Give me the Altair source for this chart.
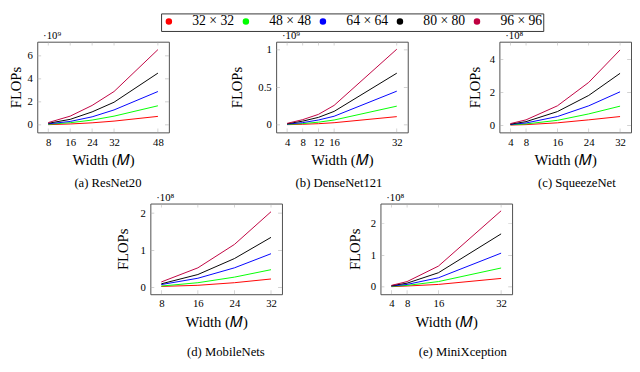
import altair as alt
import pandas as pd

SERIF = "Liberation Serif"
SERIES = ["32 × 32", "48 × 48", "64 × 64", "80 × 80", "96 × 96"]
COLORS = ["#ff0000", "#00ff00", "#0000ff", "#000000", "#bf0040"]

# (a) ResNet20, FLOPs in 1e9
resnet_width = [8, 16, 24, 32, 48]
resnet_32 = [0.02, 0.08, 0.18, 0.33, 0.74]
resnet_48 = [0.05, 0.19, 0.42, 0.76, 1.66]
resnet_64 = [0.09, 0.30, 0.70, 1.30, 2.90]
resnet_80 = [0.14, 0.48, 1.13, 1.97, 4.50]
resnet_96 = [0.20, 0.76, 1.69, 2.90, 6.54]

# (b) DenseNet121, FLOPs in 1e9
dense_width = [4, 8, 12, 16, 32]
dense_32 = [0.003, 0.008, 0.016, 0.029, 0.11]
dense_48 = [0.006, 0.017, 0.036, 0.065, 0.25]
dense_64 = [0.010, 0.030, 0.065, 0.115, 0.45]
dense_80 = [0.015, 0.050, 0.100, 0.180, 0.69]
dense_96 = [0.020, 0.070, 0.140, 0.260, 1.01]

# (c) SqueezeNet, FLOPs in 1e8
squeeze_width = [4, 8, 16, 24, 32]
squeeze_32 = [0.015, 0.04, 0.15, 0.33, 0.53]
squeeze_48 = [0.03, 0.08, 0.30, 0.69, 1.16]
squeeze_64 = [0.05, 0.14, 0.53, 1.18, 2.03]
squeeze_80 = [0.07, 0.22, 0.83, 1.81, 3.15]
squeeze_96 = [0.10, 0.33, 1.18, 2.60, 4.57]

# (d) MobileNets, FLOPs in 1e8
mobile_width = [8, 16, 24, 32]
mobile_32 = [0.03, 0.06, 0.13, 0.23]
mobile_48 = [0.04, 0.13, 0.28, 0.48]
mobile_64 = [0.08, 0.25, 0.53, 0.91]
mobile_80 = [0.10, 0.35, 0.78, 1.35]
mobile_96 = [0.15, 0.53, 1.16, 2.04]

# (e) MiniXception, FLOPs in 1e8
mini_width = [4, 8, 16, 32]
mini_32 = [0.01, 0.03, 0.08, 0.27]
mini_48 = [0.02, 0.05, 0.17, 0.60]
mini_64 = [0.03, 0.08, 0.29, 1.07]
mini_80 = [0.04, 0.12, 0.45, 1.68]
mini_96 = [0.05, 0.17, 0.66, 2.41]

W, H = 135, 93

LEG = alt.Legend(
    title=None, orient="none", legendX=127, legendY=-29,
    direction="horizontal",
    symbolType="circle", symbolSize=10, symbolStrokeWidth=3.5,
    labelFont=SERIF, labelFontSize=14, labelColor="black",
    labelOffset=17, columnPadding=3, padding=1,
    strokeColor="#333333", fillColor="white",
)


def panel(widths, series_vals, xdom, xticks, ydom, yticks, exp_text,
          caption, ext, cap_dx, cap_offset):
    rows = []
    for s, vals in zip(SERIES, series_vals):
        for m, f in zip(widths, vals):
            rows.append({"M": m, "F": f, "S": s})
    df = pd.DataFrame(rows)
    x_enc = alt.X("M:Q", scale=alt.Scale(domain=xdom, nice=False, zero=False),
                  axis=alt.Axis(values=xticks, title="Width (𝑀)",
                                labelPadding=4, titlePadding=6))
    y_enc = alt.Y("F:Q", scale=alt.Scale(domain=ydom, nice=False, zero=False),
                  axis=alt.Axis(values=yticks, format="~g", title="FLOPs",
                                minExtent=ext, maxExtent=ext,
                                titlePadding=2, labelPadding=5))
    lines = alt.Chart(df).mark_line(strokeWidth=1, clip=True).encode(
        x=x_enc, y=y_enc,
        color=alt.Color("S:N", scale=alt.Scale(domain=SERIES, range=COLORS),
                        legend=LEG),
    )
    xt = pd.DataFrame({"M": xticks})
    yt = pd.DataFrame({"F": yticks})
    tick_style = dict(clip=True, size=8, thickness=0.7, color="#aaaaaa")
    tb = alt.Chart(xt).mark_tick(orient="vertical", **tick_style).encode(
        x=x_enc, y=alt.value(H))
    tt = alt.Chart(xt).mark_tick(orient="vertical", **tick_style).encode(
        x=x_enc, y=alt.value(0))
    tl = alt.Chart(yt).mark_tick(orient="horizontal", **tick_style).encode(
        y=y_enc, x=alt.value(0))
    tr = alt.Chart(yt).mark_tick(orient="horizontal", **tick_style).encode(
        y=y_enc, x=alt.value(W))
    ex = alt.Chart(pd.DataFrame({"t": [exp_text]})).mark_text(
        align="left", baseline="alphabetic", font=SERIF, fontSize=11,
        color="black").encode(text="t:N", x=alt.value(6), y=alt.value(-3))
    return alt.layer(tb, tt, tl, tr, lines, ex).properties(
        width=W, height=H,
        title=alt.TitleParams(caption, orient="bottom", anchor="middle",
                              frame="group", dx=cap_dx, offset=cap_offset,
                              fontSize=13, font=SERIF, fontWeight="normal",
                              color="black"),
    )


pa = panel(resnet_width, [resnet_32, resnet_48, resnet_64, resnet_80, resnet_96],
           [4, 52], resnet_width, [-0.65, 7.23], [0, 2, 4, 6], "·10⁹",
           "(a) ResNet20", 12, 5, 10)
pb = panel(dense_width, [dense_32, dense_48, dense_64, dense_80, dense_96],
           [1.2, 34.8], dense_width, [-0.1, 1.11], [0, 0.5, 1], "·10⁹",
           "(b) DenseNet121", 31, -3, 10)
pc = panel(squeeze_width, [squeeze_32, squeeze_48, squeeze_64, squeeze_80, squeeze_96],
           [1.2, 34.8], squeeze_width, [-0.43, 5.07], [0, 2, 4], "·10⁸",
           "(c) SqueezeNet", 15, 12, 10)
pd_ = panel(mobile_width, [mobile_32, mobile_48, mobile_64, mobile_80, mobile_96],
            [5.6, 34.4], mobile_width, [-0.18, 2.26], [0, 1, 2], "·10⁸",
            "(d) MobileNets", 18, 10, 17)
pe = panel(mini_width, [mini_32, mini_48, mini_64, mini_80, mini_96],
           [1.2, 34.8], mini_width, [-0.23, 2.64], [0, 1, 2], "·10⁸",
           "(e) MiniXception", 16, 17, 17)

spacer = alt.Chart(pd.DataFrame({"z": [0]})).mark_point(opacity=0).encode(
    x=alt.value(0), y=alt.value(0)
).properties(width=13, height=H, view=alt.ViewBackground(stroke="transparent"))

row1 = alt.hconcat(pa, pb, pc, spacing=60)
row2 = alt.hconcat(spacer, pd_, pe, spacing=66)

chart = alt.vconcat(row1, row2, spacing=0).resolve_scale(color="shared").properties(
    padding={"left": 0, "top": 0, "right": 0, "bottom": 0}
).configure_axis(
    domain=False, ticks=False, grid=False,
    labelFont=SERIF, labelFontSize=11, labelColor="black",
    titleFont=SERIF, titleFontSize=15, titleFontWeight="normal", titleColor="black",
).configure_view(stroke="#4d4d4d", strokeWidth=1)

chart.save("out.html", embed_options={"renderer": "svg", "actions": False})
